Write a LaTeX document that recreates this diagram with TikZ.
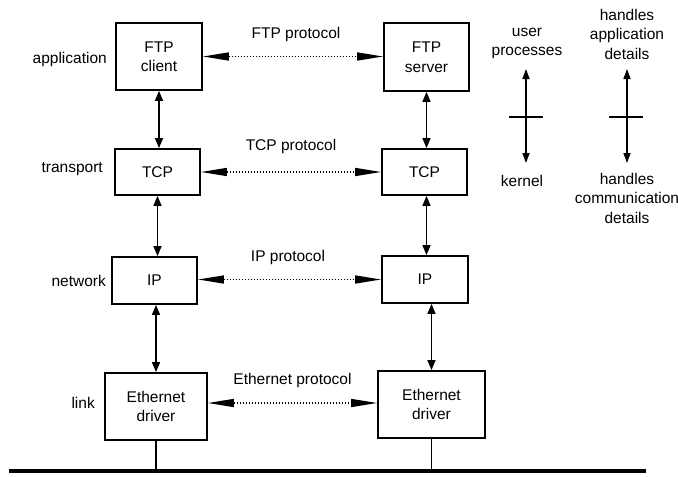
\documentclass[tikz,border=0pt]{standalone}
\usepackage{fontspec}
\setmainfont{Liberation Sans}
\usetikzlibrary{arrows.meta,calc}
\tikzset{
  layerbox/.style={draw, line width=1.8pt, align=center, inner sep=0pt},
  vlink/.style={line width=1.5pt, {Triangle[length=10pt,width=8pt]}-{Triangle[length=10pt,width=8pt]}},
  peer/.style={line width=1.5pt, dash pattern=on 1.5pt off 1.5pt,
    {Triangle[length=26pt,width=8pt]}-{Triangle[length=26pt,width=8pt]}},
  legend/.style={line width=1.5pt, {Triangle[length=10pt,width=7pt]}-{Triangle[length=10pt,width=7pt]}},
  lbl/.style={inner sep=0pt, align=center},
}
\begin{document}
\begin{tikzpicture}[x=1pt,y=-1pt,font=\fontsize{15.5}{19.5}\selectfont]
\useasboundingbox (0,0) rectangle (678,477);

% left host
\node[layerbox, minimum width=86pt, minimum height=67pt] (cl) at (159,56.5) {FTP\\client};
\node[layerbox, minimum width=85pt, minimum height=46pt] (tl) at (157.5,172) {TCP};
\node[layerbox, minimum width=85pt, minimum height=47pt] (il) at (154.5,280.5) {IP};
\node[layerbox, minimum width=102pt, minimum height=67pt] (el) at (156,406.5) {Ethernet\\driver};

% right host
\node[layerbox, minimum width=85pt, minimum height=68pt] (sr) at (426.5,57) {FTP\\server};
\node[layerbox, minimum width=85pt, minimum height=46pt] (tr) at (424.5,172) {TCP};
\node[layerbox, minimum width=86pt, minimum height=47pt] (ir) at (425,279.5) {IP};
\node[layerbox, minimum width=107pt, minimum height=67pt] (er) at (431.5,404.5) {Ethernet\\driver};

% layer names
\node[lbl, anchor=east] (la) at (107,59) {application};
\node[lbl, anchor=east] (lt) at (103,169) {transport};
\node[lbl, anchor=east] (ln) at (106,281) {network};
\node[lbl, anchor=east] (lk) at (95,403) {link};

% protocol names
\node[lbl] (pf) at (296,34) {FTP protocol};
\node[lbl] (pt) at (291,146) {TCP protocol};
\node[lbl] (pi) at (288,257) {IP protocol};
\node[lbl] (pe) at (292.5,380) {Ethernet protocol};

% peer-to-peer protocols
\draw[peer] (cl) -- (sr.west |- cl);
\draw[peer] (tl) -- (tr);
\draw[peer] (il.east |- ir) -- (ir);
\draw[peer] (el.east |- 0,403) -- (er.west |- 0,403);

% interfaces between layers
\draw[vlink] (cl.south) -- (cl.south |- tl.north);
\draw[vlink] (tl.south) -- (tl.south |- il.north);
\draw[vlink] (el.north |- il.south) -- (el.north);
\draw[vlink] (sr.south) -- (sr.south |- tr.north);
\draw[vlink] (tr.south -| sr.south) -- (sr.south |- ir.north);
\draw[vlink] (er.north |- ir.south) -- (er.north);

% Ethernet cable
\coordinate (busL) at (9,471);
\coordinate (busR) at (646,471);
\draw[line width=4.5pt] (busL) -- (busR);
\draw[line width=1.5pt] (el.south) -- (el.south |- busL);
\draw[line width=1.5pt] (er.south) -- (er.south |- busL);

% user / kernel legend
\node[lbl] (up) at (527,43.5) {user\\processes};
\node[lbl] (kn) at (522,181) {kernel};
\draw[legend] (526,69) -- (526,163);
\draw[line width=1.5pt] (509,117) -- (543,117);

\node[lbl] (ha) at (627,34) {handles\\application\\details};
\node[lbl] (hc) at (627,198) {handles\\communication\\details};
\draw[legend] (627,69) -- (627,163);
\draw[line width=1.5pt] (609,117) -- (643,117);
\end{tikzpicture}
\end{document}
